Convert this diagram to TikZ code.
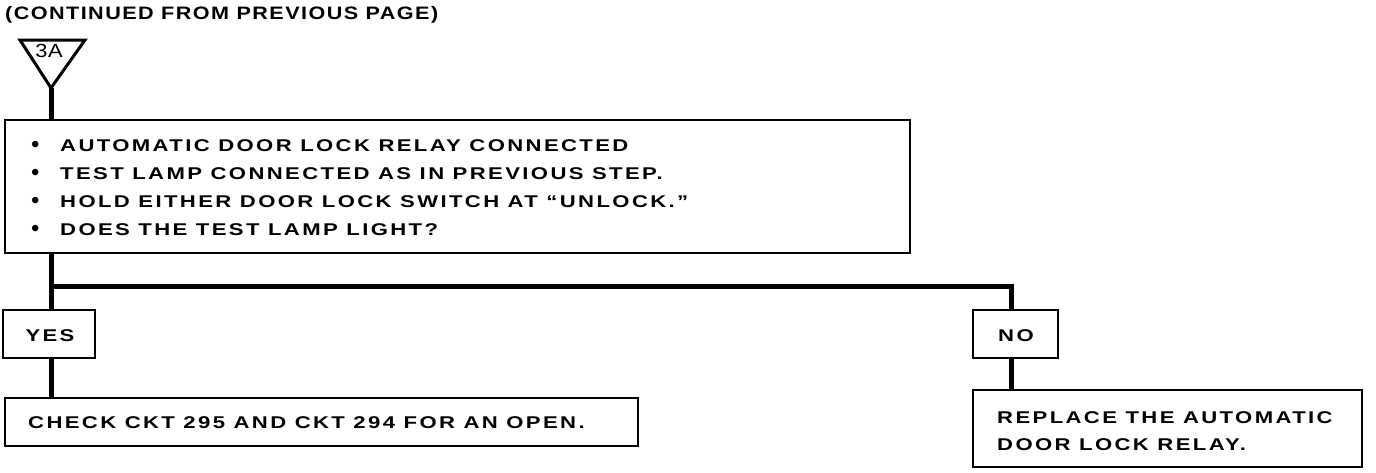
\documentclass[tikz,border=0pt]{standalone}
\usepackage{fontspec}
\setmainfont{Liberation Sans}
\newfontfamily\df{Liberation Sans Bold}[FakeStretch=1.3,LetterSpace=14]
\newfontfamily\dft{Liberation Sans Bold}[FakeStretch=1.2,LetterSpace=8]
\newfontfamily\dfl{Liberation Sans}[FakeStretch=1.15,LetterSpace=4]
\newfontfamily\bulfont{Liberation Sans}
\newcommand{\blt}{\makebox[29pt][l]{\bulfont\fontsize{24pt}{24pt}\selectfont\raisebox{-1pt}{•}}}
\tikzset{
  box/.style={draw, line width=2pt, rectangle, inner sep=0pt},
  conn/.style={line width=5pt},
  txt/.style={font=\df\fontsize{17pt}{27pt}\selectfont, inner sep=0pt},
}
\begin{document}
\begin{tikzpicture}[x=1pt,y=-1pt]
\useasboundingbox (0,0) rectangle (1376,472);
% title
\node[inner sep=0pt, font=\dft\fontsize{18pt}{20pt}\selectfont, anchor=base west] (title) at (5,19) {(CONTINUED FROM PREVIOUS PAGE)};
% off-page connector triangle
\coordinate (apex) at (51,88);
\draw[line width=3pt, line join=miter] (20,40) -- (85,40) -- (apex) -- cycle;
\node[font=\dfl\fontsize{19pt}{19pt}\selectfont, inner sep=0pt, anchor=base] (tag) at (49,57) {3A};
% boxes
\node[box, minimum width=905pt, minimum height=133pt] (main) at (457.5,186.5) {};
\node[box, minimum width=92pt, minimum height=48pt] (yes) at (49,334) {};
\node[box, minimum width=85pt, minimum height=48pt] (no) at (1015.5,334) {};
\node[box, minimum width=633pt, minimum height=48pt] (check) at (321.5,422) {};
\node[box, minimum width=389pt, minimum height=77pt] (repl) at (1167.5,428.5) {};
% texts
\node[txt, anchor=base west] (m1) at (31,151) {\blt AUTOMATIC DOOR LOCK RELAY CONNECTED};
\node[txt, anchor=base west] (m2) at (31,179) {\blt TEST LAMP CONNECTED AS IN PREVIOUS STEP.};
\node[txt, anchor=base west] (m3) at (31,207) {\blt HOLD EITHER DOOR LOCK SWITCH AT “UNLOCK.”};
\node[txt, anchor=base west] (m4) at (31,235) {\blt DOES THE TEST LAMP LIGHT?};
\node[txt, anchor=base] (ytext) at (50,341) {YES};
\node[txt, anchor=base] (ntext) at (1016,341) {NO};
\node[txt, anchor=base west] (ctext) at (28,428) {CHECK CKT 295 AND CKT 294 FOR AN OPEN.};
\node[txt, anchor=base west] (r1) at (997,423) {REPLACE THE AUTOMATIC};
\node[txt, anchor=base west] (r2) at (997,450) {DOOR LOCK RELAY.};
% connectors
\coordinate (jL) at (51,286);
\coordinate (jR) at (1011,286);
\draw[conn] (apex) -- (apex |- main.north);
\draw[conn] (jL |- main.south) -- (jL |- yes.north);
\draw[conn, line join=miter] (jL) -- (jR) -- (jR |- no.north);
\draw[conn] (jL |- yes.south) -- (jL |- check.north);
\draw[conn] (jR |- no.south) -- (jR |- repl.north);
\end{tikzpicture}
\end{document}
